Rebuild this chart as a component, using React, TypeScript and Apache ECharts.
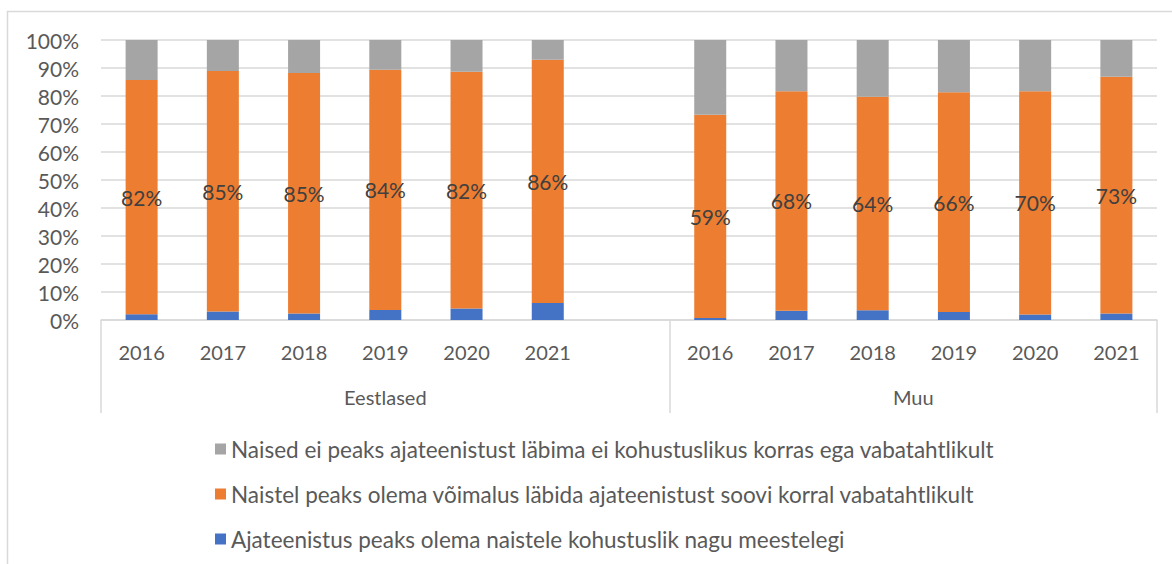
import React, { useEffect, useRef } from "react";
import * as echarts from "echarts";

// ---- data (raw survey percentages; chart shows each bar as 100% stacked) ----
const years = ["2016", "2017", "2018", "2019", "2020", "2021"];
const groups = ["Eestlased", "Muu"];

const seriesNames = [
  "Ajateenistus peaks olema naistele kohustuslik nagu meestelegi",
  "Naistel peaks olema võimalus läbida ajateenistust soovi korral vabatahtlikult",
  "Naised ei peaks ajateenistust läbima ei kohustuslikus korras ega vabatahtlikult",
];

// Eestlased
const blueE = [2, 3, 2.3, 3.5, 4, 6];
const orangeE = [82, 85, 85, 84, 82, 86];
const grayE = [14, 11, 11.7, 10.4, 11, 7];
// Muu
const blueM = [0.6, 2.9, 2.9, 2.4, 1.7, 2];
const orangeM = [59, 68, 64, 66, 70, 73];
const grayM = [21.7, 15.9, 17, 15.7, 16.1, 11.3];

const COLORS = ["#4472C4", "#ED7D31", "#A5A5A5"];
const FONT = "Lato";

export default function App() {
  const ref = useRef<HTMLDivElement>(null);

  useEffect(() => {
    if (!ref.current) return;
    const chart = echarts.init(ref.current, undefined, { renderer: "svg" });

    // categories: Eestlased years, one blank slot, Muu years
    const categories = [...years, "", ...years];
    const groupSizes = [years.length + 1, years.length];

    const rawBlue: (number | null)[] = [...blueE, null, ...blueM];
    const rawOrange: (number | null)[] = [...orangeE, null, ...orangeM];
    const rawGray: (number | null)[] = [...grayE, null, ...grayM];

    const norm = (arr: (number | null)[]) =>
      arr.map((v, i) => {
        if (v === null) return "-";
        const t = (rawBlue[i] as number) + (rawOrange[i] as number) + (rawGray[i] as number);
        return (v / t) * 100;
      });

    const blueShare = norm(rawBlue);
    const orangeShare = norm(rawOrange);
    const grayShare = norm(rawGray);

    const groupCenters: number[] = [];
    const groupBounds: number[] = [0];
    let acc = 0;
    groupSizes.forEach((s) => {
      groupCenters.push(acc + s / 2);
      acc += s;
      groupBounds.push(acc);
    });

    const textColor = "#595959";
    const gridColor = "#D9D9D9";

    chart.setOption({
      animation: false,
      textStyle: { fontFamily: FONT },
      grid: { left: 101, right: 15, top: 40, bottom: 244, containLabel: false },
      graphic: [
        {
          type: "rect",
          shape: { x: 7.5, y: 11.5, width: 1300, height: 700 },
          style: { fill: "none", stroke: gridColor, lineWidth: 1.5 },
          silent: true,
        },
      ],
      legend: {
        orient: "vertical",
        left: 210,
        top: 432,
        itemWidth: 11,
        itemHeight: 11,
        itemGap: 21,
        icon: "rect",
        data: [seriesNames[2], seriesNames[1], seriesNames[0]],
        textStyle: { color: textColor, fontSize: 22.5, fontFamily: FONT, lineHeight: 24 },
      },
      xAxis: [
        {
          type: "category",
          data: categories,
          position: "bottom",
          axisLine: { show: true, lineStyle: { color: gridColor, width: 1.5 } },
          axisTick: { show: false },
          axisLabel: { color: textColor, fontSize: 20, margin: 22, fontFamily: FONT, interval: 0 },
          splitLine: { show: false },
        },
        {
          type: "value",
          min: 0,
          max: groupBounds[groupBounds.length - 1],
          position: "bottom",
          axisLine: { show: false },
          splitLine: { show: false },
          axisTick: {
            show: true,
            customValues: groupBounds,
            length: 93,
            lineStyle: { color: gridColor, width: 1.5 },
          },
          axisLabel: {
            customValues: groupCenters,
            color: textColor,
            fontSize: 20,
            fontFamily: FONT,
            margin: 67,
            formatter: (v: number) => {
              const idx = groupCenters.findIndex((c) => Math.abs(c - v) < 1e-6);
              return idx >= 0 ? groups[idx] : "";
            },
          },
        },
      ],
      yAxis: {
        type: "value",
        min: 0,
        max: 100,
        interval: 10,
        axisLine: { show: false },
        axisTick: { show: false },
        axisLabel: { color: textColor, fontSize: 21, margin: 22, formatter: "{value}%", fontFamily: FONT },
        splitLine: { lineStyle: { color: gridColor, width: 1.5 } },
      },
      series: [
        {
          name: seriesNames[0],
          type: "bar",
          stack: "s",
          barWidth: 32,
          xAxisIndex: 0,
          itemStyle: { color: COLORS[0] },
          data: blueShare,
        },
        {
          name: seriesNames[1],
          type: "bar",
          stack: "s",
          barWidth: 32,
          xAxisIndex: 0,
          itemStyle: { color: COLORS[1] },
          data: orangeShare,
          label: {
            show: true,
            position: "inside",
            color: "#404040",
            fontSize: 21,
            fontFamily: FONT,
            formatter: (p: any) => {
              const v = rawOrange[p.dataIndex];
              return v === null ? "" : `${v}%`;
            },
          },
        },
        {
          name: seriesNames[2],
          type: "bar",
          stack: "s",
          barWidth: 32,
          xAxisIndex: 0,
          itemStyle: { color: COLORS[2] },
          data: grayShare,
        },
      ],
    });

    return () => chart.dispose();
  }, []);

  return (
    <div
      ref={ref}
      style={{ position: "fixed", left: 0, top: 0, width: 1172, height: 564, background: "#fff" }}
    />
  );
}
